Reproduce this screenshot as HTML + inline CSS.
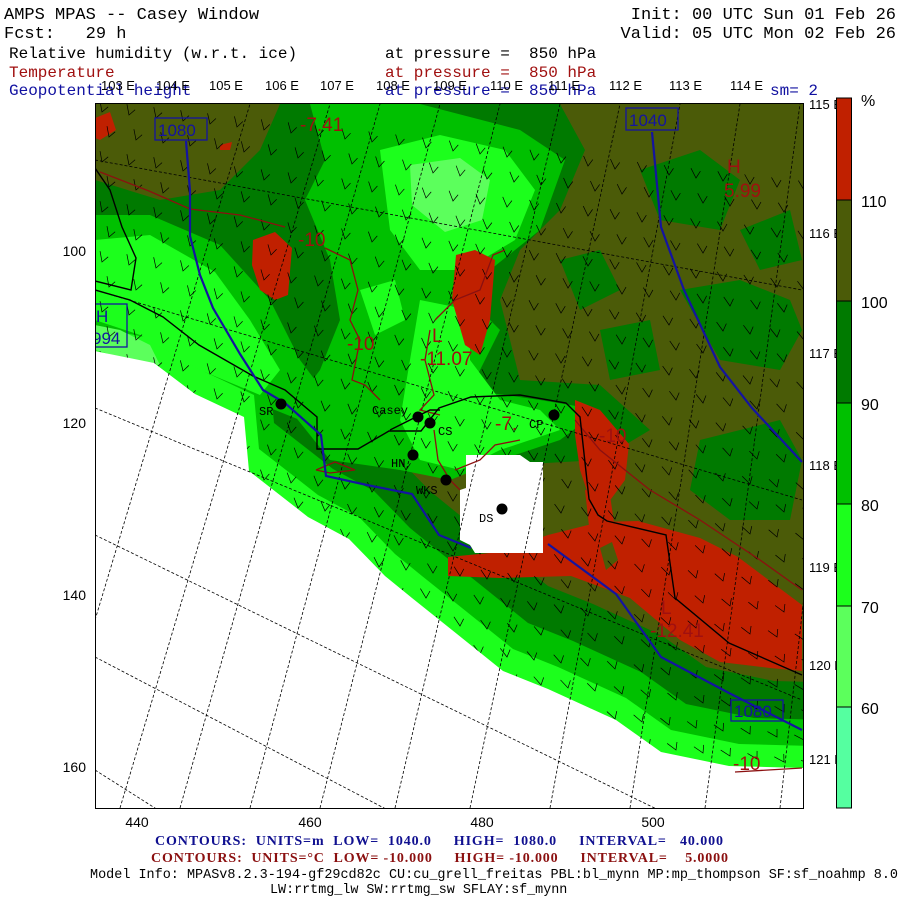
<!DOCTYPE html>
<html><head><meta charset="utf-8"><style>
html,body{margin:0;padding:0;background:#fff;width:900px;height:900px;overflow:hidden}
svg{display:block}
text{white-space:pre}
.m{font-family:"Liberation Mono",monospace;font-size:17px}
.a{font-family:"Liberation Sans",sans-serif;font-size:14px;fill:#000}
.r{fill:#a01010;font-family:"Liberation Sans",sans-serif;font-size:19px}
.s{font-family:"Liberation Serif",serif;font-size:14px;font-weight:bold}
</style></head><body>
<svg id="sv" width="900" height="900" xmlns="http://www.w3.org/2000/svg" xml:space="preserve">
<defs>
<clipPath id="cp"><rect x="96" y="104" width="707" height="704"/></clipPath>
<polygon id="W" points="-100,340 95,351 154,363 195,394 244,417 249,471 285,499 308,517 349,539 385,576 412,598 457,634 503,671 548,689 616,720 661,752 729,766 802,768 900,770 900,900 -100,900"/>
</defs>
<g class="m">
<text x="4" y="19">AMPS MPAS -- Casey Window</text>
<text x="4" y="38">Fcst:   29 h</text>
<text x="896" y="19" text-anchor="end">Init: 00 UTC Sun 01 Feb 26</text>
<text x="896" y="38" text-anchor="end">Valid: 05 UTC Mon 02 Feb 26</text>
<text x="9" y="58" style="font-size:16px">Relative humidity (w.r.t. ice)</text>
<text x="385" y="58" style="font-size:16px">at pressure =  850 hPa</text>
<text x="9" y="77" style="font-size:16px" fill="#a01010">Temperature</text>
<text x="385" y="77" style="font-size:16px" fill="#a01010">at pressure =  850 hPa</text>
<text x="9" y="95" style="font-size:16px" fill="#1010a0">Geopotential height</text>
<text x="385" y="95" style="font-size:16px" fill="#1010a0">at pressure =  850 hPa</text>
<text x="770" y="95" style="font-size:16px" fill="#1010a0">sm= 2</text>
</g>
<g class="a" style="font-size:13px">
<text x="101" y="90">103 E</text><text x="156" y="90">104 E</text><text x="209" y="90">105 E</text><text x="265" y="90">106 E</text><text x="320" y="90">107 E</text><text x="376" y="90">108 E</text><text x="433" y="90">109 E</text><text x="490" y="90">110 E</text><text x="548" y="90">111 E</text><text x="609" y="90">112 E</text><text x="669" y="90">113 E</text><text x="730" y="90">114 E</text>
</g>
<g clip-path="url(#cp)">
<rect x="95" y="103" width="710" height="710" fill="#4b5b08"/>
<g fill="#007a00">
<use href="#W" transform="translate(45,-85)"/>
<polygon points="280,104 560,104 585,150 560,210 520,250 500,300 520,380 600,385 650,430 600,460 420,470 330,470 260,420 200,360 150,300 95,260 95,180 160,200 220,190 260,150"/>
<polygon points="680,290 740,280 790,300 802,330 780,370 720,360"/>
<polygon points="640,170 700,150 740,180 720,230 660,220"/>
<polygon points="600,330 650,320 660,370 610,380"/>
<polygon points="700,440 780,420 802,460 790,520 730,520 690,490"/>
<polygon points="560,260 600,250 620,290 580,310"/>
<polygon points="740,230 790,210 802,260 760,270"/>
</g>
<g fill="#00c000">
<use href="#W" transform="translate(25,-48)"/>
<polygon points="310,104 420,104 520,130 565,160 540,230 490,270 470,300 500,330 470,390 540,400 600,410 560,440 500,460 450,480 400,470 330,460 290,410 320,370 340,320 330,260 305,200 325,160"/>
<polygon points="95,215 150,215 220,245 270,300 300,360 330,400 300,420 250,400 180,360 95,300"/>
</g>
<g fill="#1cff1c">
<use href="#W" transform="translate(10,-22)"/>
<polygon points="380,150 440,135 505,150 535,190 515,240 465,270 420,270 390,230"/>
<polygon points="420,300 470,310 470,360 500,400 540,410 560,430 500,450 460,470 420,460 400,420 410,360"/>
<polygon points="95,240 150,235 215,272 250,320 280,370 260,395 200,370 140,335 95,320"/>
<polygon points="360,290 395,280 405,320 375,335"/>
</g>
<g fill="#5cff5c">
<polygon points="410,165 460,158 490,180 482,220 445,232 412,205"/>
<polygon points="95,325 120,330 150,345 160,365 130,360 95,350"/>
</g>
<g fill="#c02000">
<polygon points="253,240 275,232 292,248 288,295 275,300 260,290 252,265"/>
<polygon points="456,255 475,250 495,260 490,320 480,355 465,345 452,300"/>
<polygon points="575,400 600,410 629,444 625,480 611,499 590,500 580,470 575,435"/>
<polygon points="548,535 600,522 638,521 700,538 738,557 802,605 802,671 770,668 720,662 680,640 630,598 590,583 571,576 500,578 448,576 448,557 500,552"/>
<polygon points="585,490 610,495 615,530 590,535"/>
<polygon points="95,118 110,112 116,130 100,140 95,138"/>
<polygon points="220,145 232,142 230,150 220,150"/>
</g>
<polygon points="600,548 612,542 618,560 606,570" fill="#4b5b08"/>
<g id="barbs" stroke="#000" stroke-width="0.7" fill="none"></g>
<use href="#W" fill="#fff"/>
<polygon points="466,455 520,455 530,462 543,462 543,553 475,553 470,545 460,540 460,490 466,488" fill="#fff"/>
<g stroke="#000" stroke-width="0.8" stroke-dasharray="3,2" fill="none">
<line x1="95" y1="160" x2="802" y2="290"/>
<line x1="95" y1="290" x2="802" y2="500"/>
<line x1="95" y1="408" x2="802" y2="700"/>
<line x1="95" y1="535" x2="802" y2="880"/>
<line x1="95" y1="657" x2="560" y2="900"/>
<line x1="95" y1="770" x2="300" y2="900"/>
<line x1="95" y1="620" x2="250" y2="104"/>
<line x1="120" y1="808" x2="330" y2="104"/>
<line x1="180" y1="808" x2="380" y2="104"/>
<line x1="250" y1="808" x2="440" y2="104"/>
<line x1="320" y1="808" x2="500" y2="104"/>
<line x1="395" y1="808" x2="560" y2="104"/>
<line x1="470" y1="808" x2="620" y2="104"/>
<line x1="550" y1="808" x2="680" y2="104"/>
<line x1="630" y1="808" x2="740" y2="104"/>
<line x1="705" y1="808" x2="800" y2="104"/>
<line x1="780" y1="808" x2="860" y2="104"/>
</g>
<g fill="none" stroke-width="1.3" stroke="#8b1010">
<polyline points="100,172 149,191 190,209 240,215 285,227"/>
<polyline points="325,248 350,260 358,290 350,320 360,340 352,380 365,385 380,400"/>
<polyline points="435,320 455,300 480,290 493,255 505,250"/>
<polyline points="430,330 425,360 434,395 420,410 440,415"/>
<polyline points="434,430 438,460 450,480 460,490"/>
<polyline points="455,470 480,460 495,445 520,440"/>
<polyline points="575,420 600,450 650,490 700,520 760,560 802,590"/>
<polyline points="316,470 335,462 355,470 330,473 316,470"/>
<polyline points="735,772 802,768"/>
</g>
<g fill="none" stroke="#000" stroke-width="1.4">
<polyline points="95,168 110,190 122,227 136,258 131,290 95,281"/>
<polyline points="95,290 130,300 163,317 199,345 253,376 285,390 317,417 317,449 358,449 389,431 421,431 439,408 471,397 520,395 566,403 580,417 589,499 598,515 607,521 666,535 675,598 729,643 802,675"/>
<polyline points="390,430 410,420 430,410 440,410"/>
</g>
<g fill="none" stroke="#1414a0" stroke-width="2.2">
<polyline points="186,141 190,191 190,236 200,275 213,308 240,354 263,390 285,403 321,435 326,476 367,485 412,494 439,535 471,548"/>
<polyline points="548,544 616,594 661,657 729,693 802,730"/>
<polyline points="652,132 661,227 684,290 720,367 752,408 802,462"/>
</g>
<g fill="none" stroke="#1414a0" stroke-width="1.3">
<rect x="155" y="118" width="52" height="22"/>
<rect x="626" y="108" width="52" height="22"/>
<rect x="731" y="700" width="52" height="21"/>
<rect x="90" y="304" width="37" height="43"/>
</g>
<g font-family="Liberation Sans,sans-serif" font-size="17" fill="#1414a0">
<text x="158" y="136">1080</text><text x="629" y="126">1040</text><text x="734" y="717">1080</text><text x="96" y="322">H</text><text x="92" y="344">994</text>
</g>
<g class="r">
<text x="300" y="131">-7.41</text><text x="727" y="173">H</text><text x="724" y="197">5.99</text>
<text x="298" y="246">-10</text><text x="347" y="350">-10</text>
<text x="432" y="342">L</text><text x="420" y="365">-11.07</text>
<text x="495" y="430">-7.</text><text x="599" y="442">-10</text>
<text x="661" y="614">L</text><text x="650" y="637">-12.41</text><text x="733" y="770">-10</text>
</g>
<g fill="#000">
<circle cx="281" cy="404" r="5.5"/><circle cx="418" cy="417" r="5.5"/><circle cx="430" cy="423" r="5.5"/><circle cx="413" cy="455" r="5.5"/><circle cx="446" cy="480" r="5.5"/><circle cx="502" cy="509" r="5.5"/><circle cx="554" cy="415" r="5.5"/>
</g>
<g font-family="Liberation Mono,monospace" font-size="12" fill="#000">
<text x="259" y="415">SR</text><text x="372" y="414">Casey</text><text x="438" y="435">CS</text><text x="391" y="467">HN</text><text x="416" y="494">WKS</text><text x="479" y="522">DS</text><text x="529" y="428">CP</text>
</g>
</g>
<rect x="95.5" y="103.5" width="708" height="705" fill="none" stroke="#000" stroke-width="1"/>
<g class="a" style="font-size:14px">
<text x="86" y="256" text-anchor="end">100</text><text x="86" y="428" text-anchor="end">120</text><text x="86" y="600" text-anchor="end">140</text><text x="86" y="772" text-anchor="end">160</text>
<text x="137" y="827" text-anchor="middle">440</text><text x="310" y="827" text-anchor="middle">460</text><text x="482" y="827" text-anchor="middle">480</text><text x="653" y="827" text-anchor="middle">500</text>
</g>
<g class="a" style="font-size:13px">
<text x="809" y="109">115 E</text><text x="809" y="238">116 E</text><text x="809" y="358">117 E</text><text x="809" y="470">118 E</text><text x="809" y="572">119 E</text><text x="809" y="670">120 E</text><text x="809" y="764">121 E</text>
</g>
<g stroke="#000" stroke-width="1">
<rect x="836.5" y="98" width="15" height="102" fill="#c02000"/>
<rect x="836.5" y="200" width="15" height="101" fill="#4b5b08"/>
<rect x="836.5" y="301" width="15" height="102" fill="#007a00"/>
<rect x="836.5" y="403" width="15" height="101" fill="#00c000"/>
<rect x="836.5" y="504" width="15" height="102" fill="#1cff1c"/>
<rect x="836.5" y="606" width="15" height="101" fill="#5cff5c"/>
<rect x="836.5" y="707" width="15" height="101" fill="#55ffa0"/>
</g>
<g font-family="Liberation Sans,sans-serif" font-size="16" fill="#000">
<text x="861" y="106">%</text>
<text x="861" y="207">110</text><text x="861" y="308">100</text><text x="861" y="410">90</text><text x="861" y="511">80</text><text x="861" y="613">70</text><text x="861" y="714">60</text>
</g>
<text class="s" x="155" y="845" fill="#101090" textLength="568" lengthAdjust="spacing">CONTOURS:  UNITS=m  LOW=  1040.0     HIGH=  1080.0     INTERVAL=   40.000</text>
<text class="s" x="151" y="862" fill="#8b1010" textLength="577" lengthAdjust="spacing">CONTOURS:  UNITS=°C  LOW= -10.000     HIGH= -10.000     INTERVAL=    5.0000</text>
<text x="90" y="878" font-family="Liberation Mono,monospace" font-size="13.4" fill="#000" textLength="808" lengthAdjust="spacingAndGlyphs">Model Info: MPASv8.2.3-194-gf29cd82c CU:cu_grell_freitas PBL:bl_mynn MP:mp_thompson SF:sf_noahmp 8.0</text>
<text x="270" y="893" font-family="Liberation Mono,monospace" font-size="13.4" fill="#000">LW:rrtmg_lw SW:rrtmg_sw SFLAY:sf_mynn</text>
</svg>
<script>
var g=document.getElementById('barbs'),s='';
for(var r=0;r<28;r++){for(var c=0;c<27;c++){
var x=102+c*27+(r%2)*7, y=112+r*25+c*3;
if(y>800)continue;
var f=(x-95)/707, h=(y-103)/705;
var a=-10-40*f*(0.4+h);
s+='<g transform="translate('+x+','+y+') rotate('+a.toFixed(1)+')"><polyline points="0,-11 0,0 7,-4"/></g>';
}}
g.innerHTML=s;
</script>
</body></html>
